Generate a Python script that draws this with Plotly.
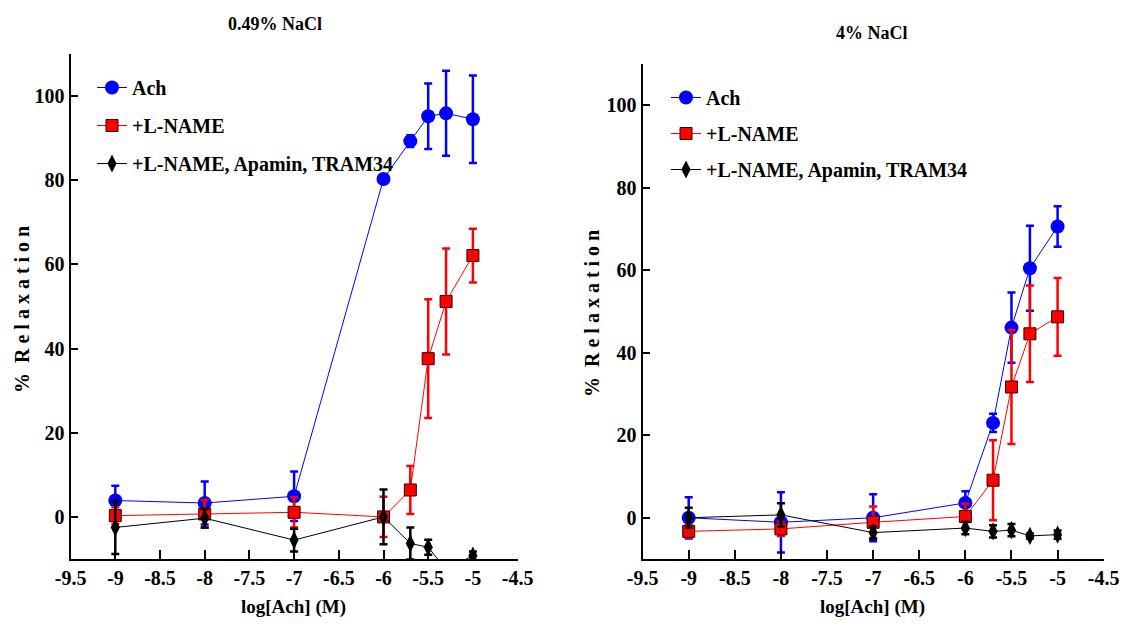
import plotly.graph_objects as go

# ---- data ----
log_conc = [-9, -8, -7, -6, -5.7, -5.5, -5.3, -5]
series_names = ["Ach", "+L-NAME", "+L-NAME, Apamin, TRAM34"]
panel_titles = ["0.49% NaCl", "4% NaCl"]
x_ticks = [-9.5, -9, -8.5, -8, -7.5, -7, -6.5, -6, -5.5, -5, -4.5]
x_tick_labels = ["-9.5", "-9", "-8.5", "-8", "-7.5", "-7", "-6.5", "-6", "-5.5", "-5", "-4.5"]
y_ticks = [0, 20, 40, 60, 80, 100]

low_ach = [3.9, 3.3, 4.9, 80.3, 89.3, 95.2, 95.9, 94.5]
low_ach_err = [3.5, 5.1, 5.9, 1.0, 1.4, 7.8, 10.1, 10.4]
low_lname = [0.3, 0.7, 1.1, 0.0, 6.4, 37.6, 51.2, 62.1]
low_lname_err = [2.0, 3.3, 3.6, 4.8, 5.7, 14.1, 12.6, 6.4]
low_tram = [-2.5, -0.3, -5.5, 0.0, -6.3, -7.2, -12.5, -9.2]
low_tram_err = [6.3, 2.2, 2.7, 6.5, 3.8, 1.8, 1.0, 1.0]

high_ach = [0.0, -1.1, 0.0, 3.6, 23.0, 46.1, 60.5, 70.6]
high_ach_err = [5.0, 7.3, 5.7, 2.8, 2.2, 8.5, 10.3, 4.9]
high_lname = [-3.3, -2.7, -1.1, 0.3, 9.1, 31.7, 44.6, 48.7]
high_lname_err = [1.5, 1.7, 3.8, 3.1, 9.7, 13.8, 11.7, 9.4]
high_tram = [0.0, 0.7, -3.6, -2.5, -3.3, -3.0, -4.4, -4.1]
high_tram_err = [2.4, 2.8, 1.5, 1.5, 1.5, 1.5, 0.6, 1.0]

# ---- styling ----
FONT = "Liberation Serif"
colors = ["#0000FF", "#FF0000", "#000000"]
symbols = ["circle", "square", "diamond-tall"]
sizes = [14, 12, 13]
marker_lines = [dict(width=0), dict(width=1, color="#300000"), dict(width=0)]

# body margin is removed in the page, so the figure fills the window
W, H = 1122, 628


def px(xp):
    return xp / W


def py(yp):
    return 1 - yp / H


fig = go.Figure()

panels = [
    ([low_ach, low_lname, low_tram], [low_ach_err, low_lname_err, low_tram_err], "x", "y", "legend"),
    ([high_ach, high_lname, high_tram], [high_ach_err, high_lname_err, high_tram_err], "x2", "y2", "legend2"),
]

for p, (vals, errs, xa, ya, leg) in enumerate(panels):
    for i in range(3):
        fig.add_trace(go.Scatter(
            x=log_conc, y=vals[i],
            mode="lines+markers",
            name=series_names[i],
            legendgroup=f"p{p}s{i}",
            legend=leg,
            xaxis=xa, yaxis=ya,
            line=dict(color=colors[i], width=1),
            marker=dict(symbol=symbols[i], size=sizes[i], color=colors[i], line=marker_lines[i]),
            error_y=dict(type="data", array=errs[i], visible=True,
                         color=colors[i], thickness=2.5, width=4),
        ))

axis_common = dict(
    showline=True, linecolor="black", linewidth=2,
    ticks="inside", tickcolor="black", tickwidth=2,
    showgrid=False, zeroline=False, automargin=False,
    tickfont=dict(family=FONT, size=20, color="black", weight="bold"),
)

fig.update_layout(
    width=W, height=H,
    margin=dict(l=0, r=0, t=0, b=0, autoexpand=False),
    font=dict(family=FONT, color="black"),
    paper_bgcolor="white", plot_bgcolor="white",
    xaxis=dict(domain=[px(70.6), px(517.6)], range=[-9.5, -4.5], tickvals=x_ticks,
               ticktext=x_tick_labels, ticklen=9, anchor="y", **axis_common),
    yaxis=dict(domain=[py(559), py(54)], range=[-10, 110], tickvals=y_ticks,
               ticklen=7, anchor="x", **axis_common),
    xaxis2=dict(domain=[px(642.6), px(1103.7)], range=[-9.5, -4.5], tickvals=x_ticks,
                ticktext=x_tick_labels, ticklen=9, anchor="y2", **axis_common),
    yaxis2=dict(domain=[py(559), py(64)], range=[-10, 110], tickvals=y_ticks,
                ticklen=7, anchor="x2", **axis_common),
    legend=dict(x=px(92), y=py(68), xanchor="left", yanchor="top",
                bgcolor="rgba(0,0,0,0)", tracegroupgap=9,
                font=dict(family=FONT, size=20, color="black", weight="bold")),
    legend2=dict(x=px(666), y=py(78), xanchor="left", yanchor="top",
                 bgcolor="rgba(0,0,0,0)", tracegroupgap=7,
                 font=dict(family=FONT, size=20, color="black", weight="bold")),
    showlegend=True,
)

title_font = dict(family=FONT, size=18, color="black", weight="bold")
label_font = dict(family=FONT, size=19, color="black", weight="bold")
ylabel_font = dict(family=FONT, size=20, color="black", weight="bold")
annotations = [
    dict(text=panel_titles[0], x=px(275), y=py(24), font=title_font),
    dict(text=panel_titles[1], x=px(872), y=py(33), font=title_font),
    dict(text="log[Ach] (M)", x=px(293), y=py(607), font=label_font),
    dict(text="log[Ach] (M)", x=px(872), y=py(607), font=label_font),
    dict(text="%  R e l a x a t i o n", x=px(22), y=py(310), textangle=-90, font=ylabel_font),
    dict(text="%  R e l a x a t i o n", x=px(592), y=py(314), textangle=-90, font=ylabel_font),
]
for a in annotations:
    a.update(xref="paper", yref="paper", showarrow=False, xanchor="center", yanchor="middle")
fig.update_layout(annotations=annotations)

fig.write_html(
    "out.html",
    config={"displayModeBar": False},
    post_script="document.body.style.margin='0';document.documentElement.style.overflow='hidden';",
)
